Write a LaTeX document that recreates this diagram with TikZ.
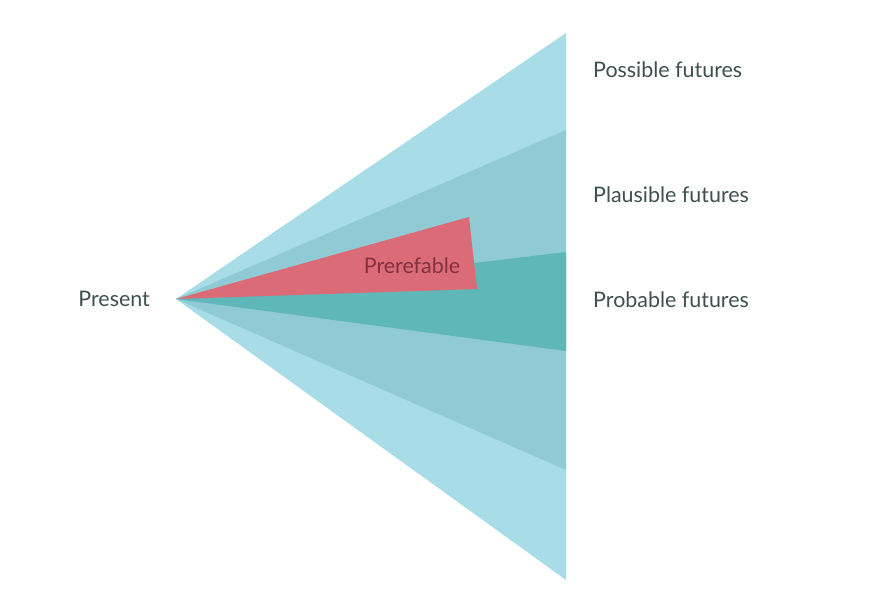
\documentclass[tikz,border=0pt]{standalone}
\usepackage{fontspec}
\setmainfont{Lato}
\definecolor{conepossible}{RGB}{168,221,232}
\definecolor{coneplausible}{RGB}{143,202,213}
\definecolor{coneprobable}{RGB}{95,183,184}
\definecolor{conepreferable}{RGB}{220,107,120}
\definecolor{labeltext}{RGB}{62,80,78}
\definecolor{wedgetext}{RGB}{130,50,62}
\tikzset{
  labelfont/.style={font=\fontsize{21.5}{24}\selectfont,inner sep=0pt},
  futurelabel/.style={labelfont,anchor=west,text=labeltext}
}

\begin{document}
\begin{tikzpicture}[x=1bp,y=-1bp]
  \useasboundingbox (0,0) rectangle (873,596);
  \coordinate (present) at (176,299);

  % cone of futures
  \fill [conepossible] (present) -- (566,33) -- (566,580) -- cycle;
  \fill [coneplausible] (present) -- (566,130) -- (566,470) -- cycle;
  \fill [coneprobable] (present) -- (566,252) -- (566,351) -- cycle;
  \fill [conepreferable] (present) -- (469,217) -- (477,289) -- cycle;

  \node [labelfont,anchor=east,text=labeltext] (presentlabel) at (150,299) {Present};
  \node [labelfont,text=wedgetext] (preferable) at (412,266) {Prerefable};

  \node [futurelabel] (possible) at (593,70) {Possible futures};
  \node [futurelabel] (plausible) at (593,195) {Plausible futures};
  \node [futurelabel] (probable) at (593,300) {Probable futures};
\end{tikzpicture}
\end{document}
